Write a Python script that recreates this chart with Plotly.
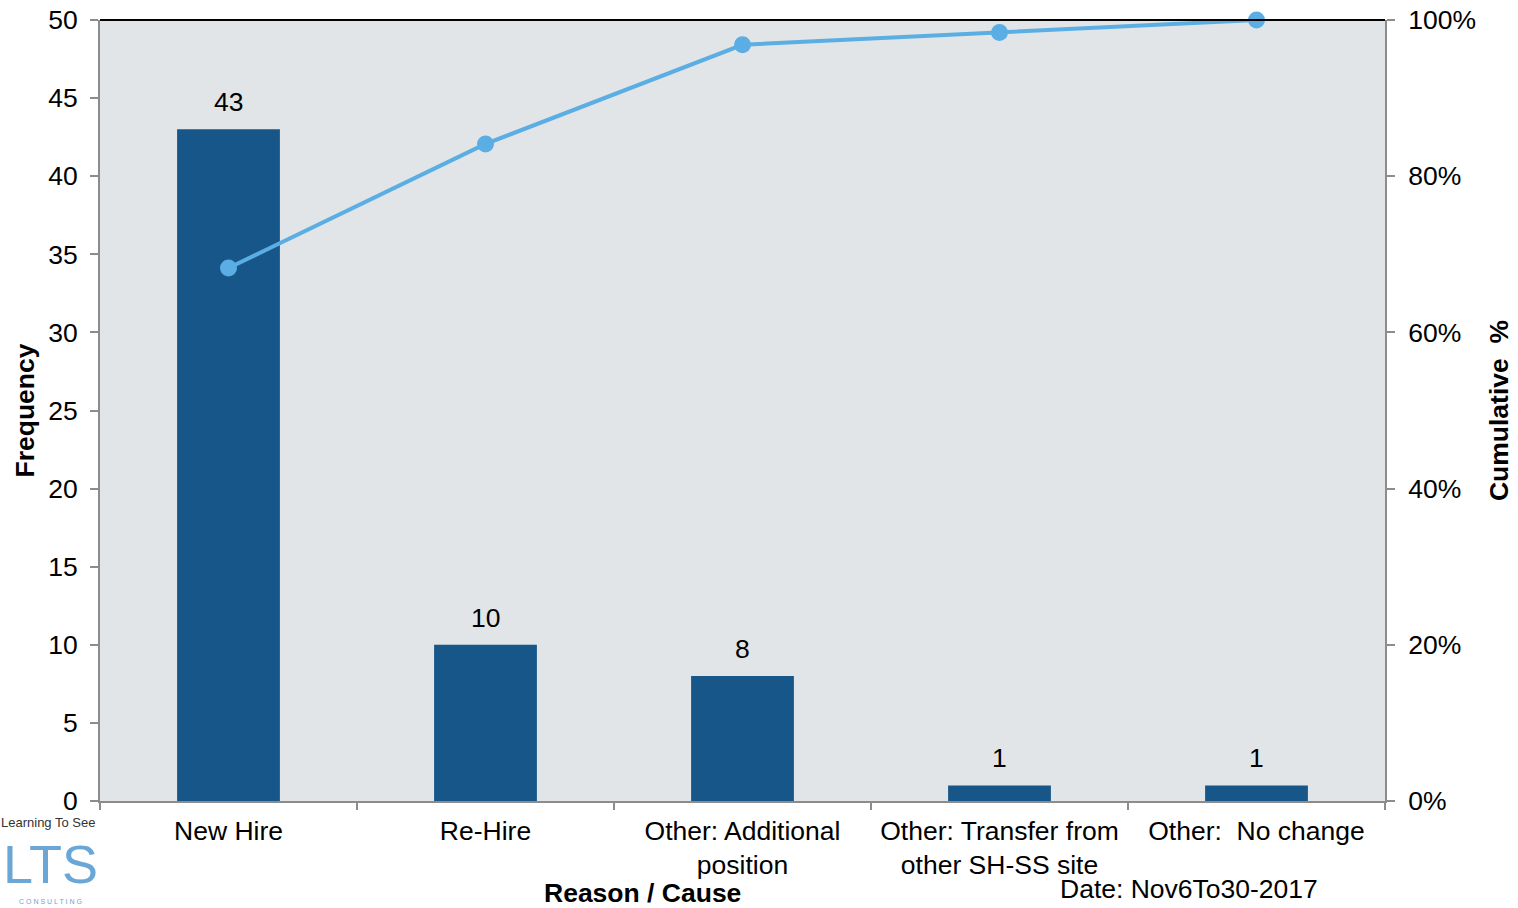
import plotly.graph_objects as go

categories = ["New Hire", "Re-Hire", "Other: Additional<br>position",
              "Other: Transfer from<br>other SH-SS site", "Other:\u00a0\u00a0No change"]
frequency = [43, 10, 8, 1, 1]
cumulative_pct = [0.6825, 0.8413, 0.9683, 0.9841, 1.0]

FONT = "Liberation Sans, Arial, sans-serif"
FS = 26.5
AXIS_GRAY = "#8c8c8c"

fig = go.Figure()
fig.add_trace(go.Bar(
    x=categories, y=frequency, width=0.4,
    marker=dict(color="#175689", line=dict(width=0)),
    yaxis="y",
))
fig.add_trace(go.Scatter(
    x=categories, y=cumulative_pct, mode="lines+markers",
    line=dict(color="#5aaee3", width=4),
    marker=dict(color="#5aaee3", size=17),
    cliponaxis=False, yaxis="y2",
))

for c, v in zip(categories, frequency):
    fig.add_annotation(x=c, y=v, xref="x", yref="y", text=str(v), showarrow=False,
                       yshift=27, yanchor="middle", font=dict(size=FS, family=FONT, color="#000"))

fig.update_layout(
    width=1518, height=908,
    margin=dict(l=100, r=133, t=20, b=107),
    paper_bgcolor="#ffffff", plot_bgcolor="#e1e5e7",
    showlegend=False,
    font=dict(family=FONT, size=FS, color="#000000"),
    xaxis=dict(
        type="category", tickson="boundaries", ticks="outside", ticklen=7,
        tickcolor=AXIS_GRAY, tickwidth=2, showline=True, linecolor=AXIS_GRAY, linewidth=2,
        showgrid=False, tickfont=dict(size=FS, family=FONT), automargin=False,
        ticklabelstandoff=5,
    ),
    yaxis=dict(
        range=[0, 50], dtick=5, ticks="outside", ticklen=8, tickcolor=AXIS_GRAY, tickwidth=2,
        showline=True, linecolor=AXIS_GRAY, linewidth=2, showgrid=False, zeroline=False,
        tickfont=dict(size=FS, family=FONT), automargin=False, ticklabelstandoff=7,
        title=dict(text="<b>Frequency</b>", font=dict(size=FS, family=FONT), standoff=6),
    ),
    yaxis2=dict(
        range=[0, 1], dtick=0.2, tickformat=".0%", overlaying="y", side="right",
        ticks="outside", ticklen=8, tickcolor=AXIS_GRAY, tickwidth=2,
        showline=True, linecolor=AXIS_GRAY, linewidth=2, showgrid=False, zeroline=False,
        tickfont=dict(size=FS, family=FONT), automargin=False, ticklabelstandoff=8,
        title=dict(text="<b>Cumulative  %</b>", font=dict(size=FS, family=FONT), standoff=14),
    ),
)

fig.add_shape(type="line", xref="paper", yref="paper", x0=0, x1=1, y0=1, y1=1,
              line=dict(color="#000000", width=2))

fig.add_annotation(text="<b>Reason / Cause</b>", xref="paper", yref="paper",
                   x=(642 - 100) / 1285, y=-(893 - 801) / 781, yanchor="middle", xanchor="center",
                   showarrow=False, font=dict(size=FS, family=FONT))
fig.add_annotation(text="Date: Nov6To30-2017", xref="paper", yref="paper",
                   x=(1189 - 100) / 1285, y=-(889 - 801) / 781, yanchor="middle", xanchor="center",
                   showarrow=False, font=dict(size=FS, family=FONT))

# logo
fig.add_annotation(text="Learning To See", xref="paper", yref="paper",
                   x=(48 - 100) / 1285, y=-(822 - 801) / 781, xanchor="center", yanchor="middle",
                   showarrow=False, font=dict(size=13, family="Liberation Sans Narrow, Arial Narrow, sans-serif", color="#333333"))
fig.add_annotation(text="LTS", xref="paper", yref="paper",
                   x=(50 - 100) / 1285, y=-(864 - 801) / 781, xanchor="center", yanchor="middle",
                   showarrow=False, font=dict(size=54, family=FONT, color="#6aa6d6"))
fig.add_annotation(text="C O N S U L T I N G", xref="paper", yref="paper",
                   x=(50 - 100) / 1285, y=-(901 - 801) / 781, xanchor="center", yanchor="middle",
                   showarrow=False, font=dict(size=7, family=FONT, color="#6aa6d6"))

fig.write_html("out.html")
